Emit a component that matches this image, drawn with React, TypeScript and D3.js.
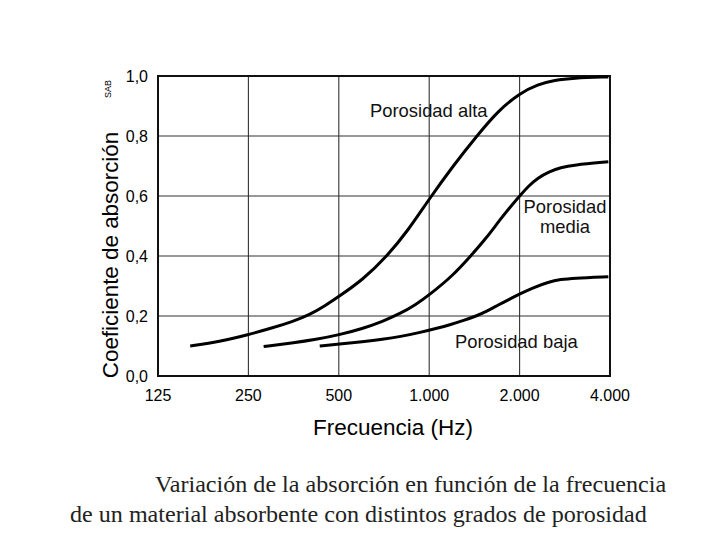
import React, { useEffect, useRef } from 'react';
import * as d3 from 'd3';

// frequency ticks (Hz) and their printed labels
const freqTicks = [125, 250, 500, 1000, 2000, 4000];
const freqLabels = ['125', '250', '500', '1.000', '2.000', '4.000'];
const coefTicks = [0, 0.2, 0.4, 0.6, 0.8, 1.0];
const coefLabels = ['0,0', '0,2', '0,4', '0,6', '0,8', '1,0'];

// Porosidad alta
const altaFreq = [160, 200, 250, 300, 350, 400, 450, 500, 600, 725, 850, 1000, 1200, 1440, 1700, 2000, 2300, 2620, 3000, 3950];
const altaCoef = [0.1, 0.114, 0.138, 0.16, 0.181, 0.204, 0.234, 0.265, 0.32, 0.4, 0.485, 0.59, 0.7, 0.8, 0.885, 0.942, 0.972, 0.986, 0.993, 0.997];

// Porosidad media
const mediaFreq = [281, 350, 420, 500, 600, 700, 800, 900, 1000, 1200, 1375, 1550, 1700, 1850, 2000, 2150, 2300, 2500, 2750, 3000, 3950];
const mediaCoef = [0.098, 0.11, 0.122, 0.137, 0.158, 0.182, 0.208, 0.237, 0.27, 0.335, 0.4, 0.46, 0.514, 0.56, 0.6, 0.635, 0.66, 0.681, 0.695, 0.703, 0.714];

// Porosidad baja
const bajaFreq = [432, 500, 600, 700, 800, 940, 1050, 1184, 1300, 1436, 1550, 1700, 1850, 2000, 2200, 2500, 2750, 3000, 3950];
const bajaCoef = [0.1, 0.106, 0.114, 0.122, 0.131, 0.146, 0.158, 0.172, 0.185, 0.2, 0.215, 0.237, 0.256, 0.273, 0.293, 0.314, 0.322, 0.326, 0.331];

const sans = 'Arial, "Liberation Sans", sans-serif';
const serif = '"Times New Roman", "Liberation Serif", serif';

const App: React.FC = () => {
  const ref = useRef<SVGSVGElement>(null);

  useEffect(() => {
    if (!ref.current) return;
    const svg = d3.select(ref.current);
    svg.selectAll('*').remove();

    const left = 158, right = 610, top = 76, bottom = 376;

    const x = d3.scaleLog().base(2).domain([125, 4000]).range([left, right]);
    const y = d3.scaleLinear().domain([0, 1]).range([bottom, top]);

    // grid
    const grid = svg.append('g').attr('stroke', '#333').attr('stroke-width', 1.1);
    grid.selectAll('.vg')
      .data(freqTicks.slice(1, -1))
      .enter().append('line')
      .attr('x1', d => x(d)).attr('x2', d => x(d))
      .attr('y1', top).attr('y2', bottom);
    grid.selectAll('.hg')
      .data(coefTicks.slice(1, -1))
      .enter().append('line')
      .attr('x1', left).attr('x2', right)
      .attr('y1', d => y(d)).attr('y2', d => y(d));

    // frame
    svg.append('rect')
      .attr('x', left).attr('y', top)
      .attr('width', right - left).attr('height', bottom - top)
      .attr('fill', 'none').attr('stroke', '#111').attr('stroke-width', 2);

    // tick labels
    svg.selectAll('.xl')
      .data(freqTicks)
      .enter().append('text')
      .attr('x', d => x(d)).attr('y', 401)
      .attr('text-anchor', 'middle')
      .attr('font-family', sans).attr('font-size', 16)
      .text((d, i) => freqLabels[i]);
    svg.selectAll('.yl')
      .data(coefTicks)
      .enter().append('text')
      .attr('x', 148).attr('y', d => y(d) + 6)
      .attr('text-anchor', 'end')
      .attr('font-family', sans).attr('font-size', 16)
      .text((d, i) => coefLabels[i]);

    // curves (B-spline smooths small reading errors)
    const line = d3.line<[number, number]>()
      .x(d => x(d[0]))
      .y(d => y(d[1]))
      .curve(d3.curveBasis);

    const series = [
      d3.zip(altaFreq, altaCoef),
      d3.zip(mediaFreq, mediaCoef),
      d3.zip(bajaFreq, bajaCoef),
    ] as [number, number][][];

    svg.selectAll('.curve')
      .data(series)
      .enter().append('path')
      .attr('d', d => line(d))
      .attr('fill', 'none')
      .attr('stroke', '#000')
      .attr('stroke-width', 3);

    // curve labels
    const lab = svg.append('g').attr('font-family', sans).attr('font-size', 18.4).attr('fill', '#111');
    lab.append('text').attr('x', 370).attr('y', 117).text('Porosidad alta');
    lab.append('text').attr('x', 565).attr('y', 213).attr('text-anchor', 'middle').text('Porosidad');
    lab.append('text').attr('x', 565).attr('y', 233).attr('text-anchor', 'middle').text('media');
    lab.append('text').attr('x', 455).attr('y', 348).text('Porosidad baja');

    // axis titles
    svg.append('text')
      .attr('x', 393).attr('y', 435)
      .attr('text-anchor', 'middle')
      .attr('font-family', sans).attr('font-size', 22.5)
      .text('Frecuencia (Hz)');
    svg.append('text')
      .attr('transform', 'translate(118,255) rotate(-90)')
      .attr('text-anchor', 'middle')
      .attr('font-family', sans).attr('font-size', 22.4)
      .text('Coeficiente de absorción');
    svg.append('text')
      .attr('transform', 'translate(111,89) rotate(-90)')
      .attr('text-anchor', 'middle')
      .attr('font-family', sans).attr('font-size', 9)
      .text('SAB');

    // caption
    svg.append('text')
      .attr('x', 155).attr('y', 492)
      .attr('font-family', serif).attr('font-size', 24.1).attr('fill', '#222')
      .text('Variación de la absorción en función de la frecuencia');
    svg.append('text')
      .attr('x', 70).attr('y', 522)
      .attr('font-family', serif).attr('font-size', 24.1).attr('fill', '#222')
      .text('de un material absorbente con distintos grados de porosidad');
  }, []);

  return (
    <div style={{ position: 'absolute', left: 0, top: 0 }}>
      <svg ref={ref} width={713} height={560} style={{ display: 'block', background: '#fff' }} />
    </div>
  );
};

export default App;
